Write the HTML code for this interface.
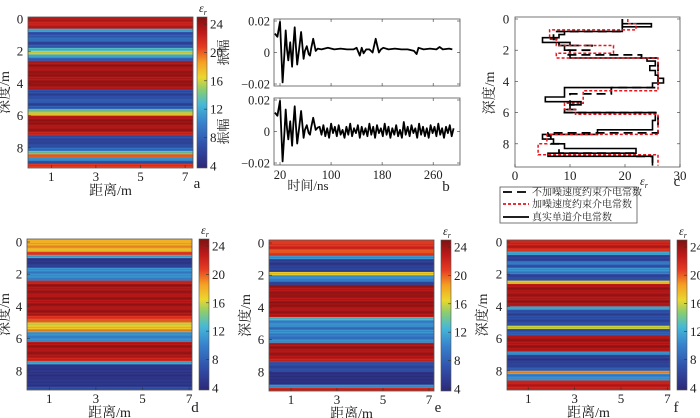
<!DOCTYPE html>
<html><head><meta charset="utf-8">
<style>
html,body{margin:0;padding:0;background:#fff;}
svg{display:block;font-family:"Liberation Serif","Noto Serif CJK SC",serif;}
</style></head>
<body>
<svg id="fig" width="700" height="418" viewBox="0 0 700 418" xmlns="http://www.w3.org/2000/svg">
<defs>
<linearGradient id="jetgrad" x1="0" y1="1" x2="0" y2="0"></linearGradient>
</defs>
</svg>
<script>
// ---------- data ----------
const depthStep = 0.2;
const profileA = [23,22,23,12,7,8,9,6,8,13,16,12,8,23,24,23,24,24,23,24,24,23,7,6,7,8,6,8,14,17,23,24,24,23,24,22,7,6,6,7,9,14,20,11,7,21,20];
const profileD = [18,19,17,21,12,5,5,6,11,10,11,10,22,24,23,24,23,24,23,24,23,24,23,21,20,16,17,19,11,10,11,23,24,23,24,23,22,12,5,5,5,4.5,5,5,5,7,22];
const profileE = [21,22,20,21,11,6,5,6,6,17,11,10,6,24,23,24,24,23,24,24,23,24,23,13,10,11,9,11,10,9,11,23,24,23,24,23,22,7,6,7,4.5,4.5,4.5,4.5,11,22,23];
const profileF = [22,23,21,12,6,6,10,7,11,10,6,7,17,23,24,23,24,23,24,23,12,7,6,7,6,7,16,7,8,23,24,23,24,23,11,6,5,6,6,8,19,10,11,22,23,22,23];
const depthTicks = [0,2,4,6,8];
const distTicks = [1,3,5,7];
const cbTicks = [4,8,12,16,20,24];
// panel b
const timesTop = [12,16,20,22,24,27,29,31,33,36,39,41,43,45,47,50,53,55,57,59,62,65,67,69,72,76,79,85,95,105,115,125,135,140,145,148,151,155,160,165,170,172,175,178,182,190,200,210,220,230,234,237,245,255,265,270,275,285,290];
const ampsTop = [12,10,19.5,0,-19,0,14,2,-5,6.5,-9,5,16,3,-7.6,2,13,5,-4,1,4,-1,-2,3,8.7,1,2.5,2,3,2,2.5,2,2,3,-2,3,-0.5,2,2,0,8.7,5,0,2,3,2,2.5,2,2,1,-1,3,2,2.5,2,3.5,2,2.5,2];
const noiseStart = 82, noiseStep = 3;
const noiseBottom = [3,-2,4,-3,2,-4,5,-1,3,-3,4,-2,1,-4,3,-2,5,-3,2,-1,4,-4,3,-2,2,-3,5,-2,3,-4,4,-1,2,-3,5,-2,3,-4,2,-2,4,-3,1,-4,6,-2,3,-3,4,-1,2,-4,5,-2,3,-3,2,-4,4,-1,3,-3,5,-2,2,-4,3,-1,4,-3,2];
const timeTicks = [20,100,180,260];
const ampTicks = [0.02,0,-0.02];
// panel c
const trueDepth = [0,0.3,0.5,0.8,1.0,1.2,1.5,1.7,2.0,2.5,2.7,3.0,3.3,3.6,3.8,4.1,4.4,5.0,5.3,5.5,5.8,6.0,6.5,7.1,7.4,7.7,8.0,8.3,8.6,8.8,9.4];
const trueVal = [19.5,24.8,19.5,9,8,5,10,9,10,24,25.5,24.5,25.5,26,27,25,9,5.5,12,10,9,25.5,25,15,5,7,9,22,6,25];
const noisyDepth = [0,0.3,0.7,1.3,1.7,2.2,2.5,4.6,5.4,5.8,6.1,7.4,8.0,8.7,9.4];
const noisyVal = [20.5,22,6.3,7.5,17.9,7.5,26,12.4,9,11,26,5.8,4.2,26];
const cleanDepth = [0,0.8,1.3,1.7,2.0,2.3,2.5,4.4,4.8,5.5,5.8,6.0,7.3,7.5,8.0,8.6,8.8,9.4];
const cleanVal = [19.5,7,8,14,9.5,23,26,17.5,10,11,9,26,6,6.5,8,22,25];
const epsTicks = [0,10,20,30];

// ---------- helpers ----------
const NS="http://www.w3.org/2000/svg";
const svg=document.getElementById('fig');
function mk(tag,attrs,parent){const e=document.createElementNS(NS,tag);for(const k in attrs)e.setAttribute(k,attrs[k]);(parent||svg).appendChild(e);return e;}
function txt(s,x,y,size,anchor,parent,rot){const t=mk('text',{x:x,y:y,'font-size':size,'text-anchor':anchor||'middle',fill:'#222'},parent);if(rot)t.setAttribute('transform','rotate(-90 '+x+' '+y+')');t.textContent=s;return t;}
const cmap=[[0,[45,40,120]],[0.15,[48,80,170]],[0.3,[55,130,205]],[0.42,[70,185,215]],[0.52,[140,205,110]],[0.6,[235,215,45]],[0.7,[245,160,35]],[0.8,[230,60,35]],[0.9,[190,25,25]],[1,[125,18,18]]];
function jet(v,lo,hi){const t=Math.max(0,Math.min(1,(v-lo)/(hi-lo)));
  for(let i=1;i<cmap.length;i++){if(t<=cmap[i][0]){const a=cmap[i-1],b=cmap[i];const f=(t-a[0])/(b[0]-a[0]);
    return 'rgb('+[0,1,2].map(k=>Math.round(a[1][k]+(b[1][k]-a[1][k])*f)).join(',')+')';}}
  return 'rgb(125,18,18)';}
const grad=document.getElementById('jetgrad');
cmap.forEach(s=>mk('stop',{offset:s[0],'stop-color':'rgb('+s[1].join(',')+')'},grad));

function heatPanel(name,prof,L,T,R,B,y0,xs,x0,cbL,cbT,cbB,letter,lx,ly,ylx){
  const g=mk('g',{});
  
  
  const yS=d=>y0+16.1*d;
  const xS=m=>x0+xs*m;
  const cid='clip-'+name;
  const cp=mk('clipPath',{id:cid},g);mk('rect',{x:L,y:T,width:R-L,height:B-T},cp);
  const hg=mk('g',{'clip-path':'url(#'+cid+')'},g);
  for(let i=0;i<prof.length;i++){
    const ya=i===0?T:yS(i*depthStep), yb=i===prof.length-1?B:yS((i+1)*depthStep);
    const r=mk('rect',{x:L,y:ya,width:R-L,height:yb-ya+0.6,fill:jet(prof[i],3.7,25)},hg);
    
    
  }
  for(let i=0;i<prof.length;i++){
    mk('line',{x1:L,x2:R,y1:yS(i*depthStep+0.1),y2:yS(i*depthStep+0.1),stroke:'rgba(0,0,0,0.12)','stroke-width':0.8},hg);
  }
  mk('rect',{x:L,y:T,width:R-L,height:B-T,fill:'none',stroke:'#555','stroke-width':0.8},g);
  depthTicks.forEach(d=>{const y=yS(d);mk('line',{x1:L,x2:L+3,y1:y,y2:y,stroke:'#333','stroke-width':0.6},g);
    const t=txt(String(d),L-8,y+4.5,13,'middle',g);});
  distTicks.forEach(m=>{const x=xS(m);mk('line',{x1:x,x2:x,y1:B,y2:B-3,stroke:'#333','stroke-width':0.6},g);
    const t=txt(String(m),x,B+13,13,'middle',g);});
  const yl=txt('深度/m',ylx,(T+B)/2,14,'middle',g,true);
  const xl=txt('距离/m',(L+R)/2,B+27,14,'middle',g);
  const lt=txt(letter,lx,ly,15,'middle',g);
  const cb=mk('rect',{x:cbL,y:cbT,width:10,height:cbB-cbT,fill:'url(#jetgrad)',stroke:'#555','stroke-width':0.6},g);
  
  const cY=v=>cbB-(v-3.7)/(25-3.7)*(cbB-cbT);
  cbTicks.forEach(v=>{const y=cY(v);mk('line',{x1:cbL+7,x2:cbL+10,y1:y,y2:y,stroke:'#333','stroke-width':0.6},g);
    const t=txt(String(v),cbL+13,y+4.5,13,'start',g);});
  const et=mk('text',{x:cbL+2,y:cbT-5,'font-size':12,'font-style':'italic',fill:'#222'},g);
  
  et.innerHTML='ε<tspan font-size="8" dy="3">r</tspan>';
}

heatPanel('heatmap-a',profileA,28,17,193,168,19,22.3,29,197,17,168,'a',197,188,9);
heatPanel('heatmap-d',profileD,27,239,192,390,242,23.3,26,199,239,390,'d',195,412,9);
heatPanel('heatmap-e',profileE,269,240,434,391,243,23,268,441,240,391,'e',438,412,250);
heatPanel('heatmap-f',profileF,507,240,670,390,242,23.2,505,677,240,390,'f',676,412,487);

// ---------- panel b ----------
function wavePanel(name,times,amps,T,B,showX){
  const g=mk('g',{});
  
  
  const L=274,R=460;
  const xS=t=>L+(t-10.6)/(302-10.6)*(R-L);
  const z=(T+B)/2, k=(B-T-4)/2/0.02;
  const yS=a=>z-a*k;
  mk('rect',{x:L,y:T,width:R-L,height:B-T,fill:'#fff',stroke:'#555','stroke-width':0.8},g);
  const cid='clip-'+name;const cp=mk('clipPath',{id:cid},g);mk('rect',{x:L,y:T,width:R-L,height:B-T},cp);
  const pts=times.map((t,i)=>xS(t).toFixed(1)+','+yS(amps[i]/1000).toFixed(1)).join(' ');
  const pl=mk('polyline',{points:pts,fill:'none',stroke:'#000','stroke-width':1.8,'stroke-linejoin':'round','clip-path':'url(#'+cid+')'},g);
  
  ampTicks.forEach(a=>{const y=yS(a);mk('line',{x1:L,x2:L+3,y1:y,y2:y,stroke:'#333','stroke-width':0.6},g);mk('line',{x1:R,x2:R-3,y1:y,y2:y,stroke:'#333','stroke-width':0.6},g);
    const t=txt(a===0?'0':(a>0?'0.02':'−0.02'),L-4,y+4.5,12.5,'end',g);});
  timeTicks.forEach(tv=>{const x=xS(tv);mk('line',{x1:x,x2:x,y1:B,y2:B-3,stroke:'#333','stroke-width':0.6},g);mk('line',{x1:x,x2:x,y1:T,y2:T+3,stroke:'#333','stroke-width':0.6},g);
    if(showX){const t=txt(String(tv),x,B+14,12.5,'middle',g);}});
  const yl=txt('振幅',228,(T+B)/2,13,'middle',g,true);
  return g;
}
wavePanel('waveform-clean',timesTop,ampsTop,19,86,false);
const nEarly=27;
const timesBottom=timesTop.slice(0,nEarly).concat(noiseBottom.map((v,i)=>noiseStart+i*noiseStep));
const ampsBottom=ampsTop.slice(0,nEarly).concat(noiseBottom);
wavePanel('waveform-noisy',timesBottom,ampsBottom,98,165,true);
{const t=txt('时间/ns',308,190,13,'middle');
 const b=txt('b',446,191,15,'middle');}

// ---------- panel c ----------
{
  const g=mk('g',{});
  
  
  const L=515,R=680,T=17,B=167;
  const xS=v=>L+v/30*(R-L);
  const yS=d=>19+15.6*d;
  mk('rect',{x:L,y:T,width:R-L,height:B-T,fill:'#fff',stroke:'#555','stroke-width':0.8},g);
  const cp=mk('clipPath',{id:'clip-c'},g);mk('rect',{x:L,y:T,width:R-L,height:B-T},cp);
  function stepPath(dep,val){let d='M'+xS(val[0]).toFixed(1)+','+yS(dep[0]).toFixed(1);
    for(let i=0;i<val.length;i++){d+=' L'+xS(val[i]).toFixed(1)+','+yS(dep[i]).toFixed(1)+' L'+xS(val[i]).toFixed(1)+','+yS(dep[i+1]).toFixed(1);}return d;}
  const p1=mk('path',{d:stepPath(trueDepth,trueVal),fill:'none',stroke:'#000','stroke-width':1.6,'clip-path':'url(#clip-c)'},g);
  
  const p2=mk('path',{d:stepPath(cleanDepth,cleanVal),fill:'none',stroke:'#000','stroke-width':1.8,'stroke-dasharray':'9,5','clip-path':'url(#clip-c)'},g);
  
  const p3=mk('path',{d:stepPath(noisyDepth,noisyVal),fill:'none',stroke:'#e8141c','stroke-width':1.5,'stroke-dasharray':'3,2','clip-path':'url(#clip-c)'},g);
  
  depthTicks.forEach(d=>{const y=yS(d);mk('line',{x1:L,x2:L+3,y1:y,y2:y,stroke:'#333','stroke-width':0.6},g);mk('line',{x1:R,x2:R-3,y1:y,y2:y,stroke:'#333','stroke-width':0.6},g);
    const t=txt(String(d),L-9,y+4.5,13,'middle',g);});
  epsTicks.forEach(v=>{const x=xS(v);mk('line',{x1:x,x2:x,y1:B,y2:B-3,stroke:'#333','stroke-width':0.6},g);
    const t=txt(String(v),x,B+13,13,'middle',g);});
  const yl=txt('深度/m',494,93,14,'middle',g,true);
  const et=mk('text',{x:640,y:185,'font-size':12,'font-style':'italic',fill:'#222'},g);
  
  et.innerHTML='ε<tspan font-size="8" dy="3">r</tspan>';
  const c=txt('c',677,186,15,'middle',g);
  const lg=mk('g',{},g);
  
  mk('rect',{x:500,y:187,width:137,height:36,fill:'#fff',stroke:'#555','stroke-width':0.8},lg);
  const items=[['不加噪速度约束介电常数','#000','9,5',192],['加噪速度约束介电常数','#e8141c','3,2',204],['真实单道介电常数','#000','none',217]];
  items.forEach(it=>{const e=mk('g',{},lg);
    
    mk('line',{x1:503,x2:529,y1:it[3],y2:it[3],stroke:it[1],'stroke-width':1.8,'stroke-dasharray':it[2]},e);
    txt(it[0],532,it[3]+3.5,10,'start',e);});
}
</script>
</body></html>
